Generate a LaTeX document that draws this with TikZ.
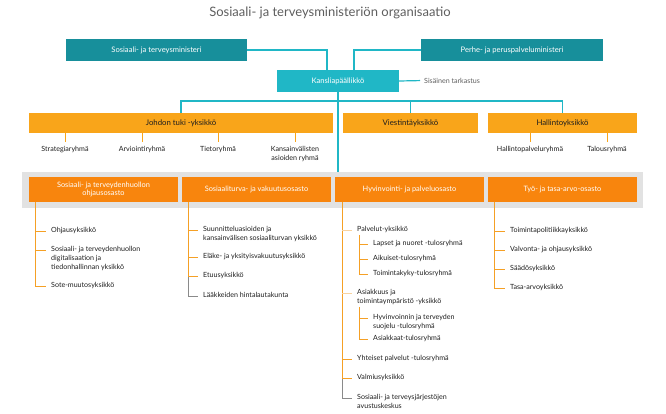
\documentclass[tikz,border=0pt]{standalone}
\usepackage{fontspec}
\setmainfont{Lato}
\definecolor{tealdark}{HTML}{178F9B}
\definecolor{cyanc}{HTML}{20B7C6}
\definecolor{amber}{HTML}{F9A51A}
\definecolor{deptor}{HTML}{F8850D}
\definecolor{trunkor}{HTML}{F5A025}
\definecolor{paleor}{HTML}{F8D3A0}
\definecolor{greyl}{HTML}{8A8A8A}
\definecolor{bandg}{HTML}{E2E2E2}
\definecolor{txt}{HTML}{1E1E1E}
\definecolor{titleg}{HTML}{5E5E5E}
\tikzset{
  fsmall/.style={font=\fontsize{7.1}{9}\selectfont},
  item/.style={fsmall, text=txt, inner sep=0pt, anchor=north west, align=left},
  lbl/.style={fsmall, text=txt, inner sep=0pt, anchor=north, align=center},
  tealbox/.style={fill=tealdark, text=white, inner sep=0pt, minimum height=22pt, font=\fontsize{7.6}{9}\selectfont},
  kbox/.style={fill=cyanc, text=white, inner sep=0pt, minimum height=22pt, font=\fontsize{7.6}{9}\selectfont},
  ambox/.style={fill=amber, text=txt, inner sep=0pt, minimum height=20pt, font=\fontsize{7.8}{9}\selectfont},
  deptbox/.style={fill=deptor, text=white, inner sep=0pt, minimum height=25pt, minimum width=149pt, align=center, font=\fontsize{7.4}{8.8}\selectfont},
  bandbox/.style={fill=bandg, inner sep=0pt, minimum width=621pt, minimum height=36pt},
  cyanline/.style={draw=cyanc, line width=1.2pt},
  amline/.style={draw=amber, line width=1pt},
  orline/.style={draw=trunkor, line width=1pt},
  paleline/.style={draw=paleor, line width=1pt},
  greyline/.style={draw=greyl, line width=1pt},
  tick/.style={shorten >=5pt},
}
\begin{document}
\begin{tikzpicture}[x=1pt,y=-1pt]
\useasboundingbox (0,0) rectangle (666,414);
% title
\node[font=\fontsize{13}{15}\selectfont, text=titleg, inner sep=0pt] (title) at (330,13) {Sosiaali- ja terveysministeriön organisaatio};
% top boxes
\node[tealbox, minimum width=181pt] (min1) at (156.5,50) {Sosiaali- ja terveysministeri};
\node[tealbox, minimum width=182pt] (min2) at (512,50) {Perhe- ja peruspalveluministeri};
\node[kbox, minimum width=122pt] (kans) at (338,81) {Kansliapäällikkö};
\node[fsmall, text=titleg, inner sep=0pt, anchor=west] (sis) at (424,80.5) {Sisäinen tarkastus};
% second row
\node[ambox, minimum width=304pt] (johdon) at (181,123) {Johdon tuki -yksikkö};
\node[ambox, minimum width=135pt] (viest) at (410.5,123) {Viestintäyksikkö};
\node[ambox, minimum width=149pt] (hall) at (562.5,123) {Hallintoyksikkö};
% band + departments
\node[bandbox] (band) at (332.5,190) {};
\node[deptbox] (d1) at (103.5,189.5) {Sosiaali- ja terveydenhuollon\\ohjausosasto};
\node[deptbox] (d2) at (256.5,189.5) {Sosiaaliturva- ja vakuutusosasto};
\node[deptbox] (d3) at (409.5,189.5) {Hyvinvointi- ja palveluosasto};
\node[deptbox] (d4) at (562.5,189.5) {Työ- ja tasa-arvo-osasto};
% cyan connectors
\coordinate (bus) at (338,101);
\draw[cyanline] (min1.east) -| ([xshift=-11pt]kans.north);
\draw[cyanline] (min2.west) -| ([xshift=16pt]kans.north);
\draw[cyanline, shorten >=4pt] (kans.east) -- (sis.west);
\draw[cyanline] (kans.south) -- (band.north -| kans.south);
\draw[cyanline] (johdon.north) |- (hall.north |- bus) -- (hall.north);
\draw[cyanline] (viest.north) -- (viest.north |- bus);
% johdon groups
\node[lbl] (g1) at (65,146.5) {Strategiaryhmä};
\node[lbl] (g2) at (142,146.5) {Arviointiryhmä};
\node[lbl] (g3) at (218,146.5) {Tietoryhmä};
\node[lbl] (g4) at (295,146.5) {Kansainvälisten\\asioiden ryhmä};
\node[lbl] (h1) at (530,146.5) {Hallintopalveluryhmä};
\node[lbl] (h2) at (607,146.5) {Talousryhmä};
\foreach \g in {g1,g2,g3,g4}{\draw[amline, shorten >=4pt] (johdon.south -| \g.north) -- (\g.north);}
\foreach \g in {h1,h2}{\draw[amline, shorten >=4pt] (hall.south -| \g.north) -- (\g.north);}
% column 1
\coordinate (k1a) at (35,231);
\coordinate (k1b) at (35,250);
\coordinate (k1c) at (35,286);
\node[item] (i1a) at ([xshift=16pt,yshift=3.5pt]k1a) {Ohjausyksikkö};
\node[item] (i1b) at ([xshift=16pt,yshift=3.5pt]k1b) {Sosiaali- ja terveydenhuollon\\digitalisaation ja\\tiedonhallinnan yksikkö};
\node[item] (i1c) at ([xshift=16pt,yshift=3.5pt]k1c) {Sote-muutosyksikkö};
\draw[orline] (d1.south -| k1a) -- (k1c);
\foreach \k/\i in {k1a/i1a,k1b/i1b,k1c/i1c}{\draw[orline, tick] (\k) -- (\k -| \i.west);}
% column 2
\coordinate (k2a) at (188,230);
\coordinate (k2b) at (188,257);
\coordinate (k2c) at (188,276);
\coordinate (k2d) at (188,296);
\node[item] (i2a) at ([xshift=15pt,yshift=3.5pt]k2a) {Suunnitteluasioiden ja\\kansainvälisen sosiaaliturvan yksikkö};
\node[item] (i2b) at ([xshift=15pt,yshift=3.5pt]k2b) {Eläke- ja yksityisvakuutusyksikkö};
\node[item] (i2c) at ([xshift=15pt,yshift=3.5pt]k2c) {Etuusyksikkö};
\node[item] (i2d) at ([xshift=15pt,yshift=3.5pt]k2d) {Lääkkeiden hintalautakunta};
\draw[orline] (d2.south -| k2a) -- (k2c);
\draw[greyline] (k2c) -- (k2d);
\foreach \k/\i in {k2a/i2a,k2b/i2b,k2c/i2c}{\draw[orline, tick] (\k) -- (\k -| \i.west);}
\draw[greyline, tick] (k2d) -- (k2d -| i2d.west);
% column 3
\coordinate (k3a) at (342,230);
\coordinate (k3b) at (342,293);
\coordinate (k3c) at (342,359);
\coordinate (k3d) at (342,378);
\coordinate (k3e) at (342,398);
\node[item] (i3a) at ([xshift=15pt,yshift=3.5pt]k3a) {Palvelut-yksikkö};
\node[item] (i3b) at ([xshift=15pt,yshift=3.5pt]k3b) {Asiakkuus ja\\toimintaympäristö -yksikkö};
\node[item] (i3c) at ([xshift=15pt,yshift=3.5pt]k3c) {Yhteiset palvelut -tulosryhmä};
\node[item] (i3d) at ([xshift=15pt,yshift=3.5pt]k3d) {Valmiusyksikkö};
\node[item] (i3e) at ([xshift=15pt,yshift=3.5pt]k3e) {Sosiaali- ja terveysjärjestöjen\\avustuskeskus};
\draw[orline] (d3.south -| k3a) -- (k3d);
\draw[greyline] (k3d) -- (k3e);
\foreach \k/\i in {k3a/i3a,k3b/i3b}{\draw[paleline, tick] (\k) -- (\k -| \i.west);}
\foreach \k/\i in {k3c/i3c,k3d/i3d}{\draw[orline, tick] (\k) -- (\k -| \i.west);}
\draw[greyline, tick] (k3e) -- (k3e -| i3e.west);
% sub-units
\coordinate (s1a) at (359,244);
\coordinate (s1b) at (359,259);
\coordinate (s1c) at (359,274);
\node[item] (j1a) at ([xshift=14pt,yshift=3.5pt]s1a) {Lapset ja nuoret -tulosryhmä};
\node[item] (j1b) at ([xshift=14pt,yshift=3.5pt]s1b) {Aikuiset-tulosryhmä};
\node[item] (j1c) at ([xshift=14pt,yshift=3.5pt]s1c) {Toimintakyky-tulosryhmä};
\draw[orline] ([yshift=-1.5pt]i3a.south -| s1a) -- (s1c);
\foreach \k/\i in {s1a/j1a,s1b/j1b,s1c/j1c}{\draw[orline, tick] (\k) -- (\k -| \i.west);}
\coordinate (s2a) at (359,318);
\coordinate (s2b) at (359,339);
\node[item] (j2a) at ([xshift=14pt,yshift=3.5pt]s2a) {Hyvinvoinnin ja terveyden\\suojelu -tulosryhmä};
\node[item] (j2b) at ([xshift=14pt,yshift=3.5pt]s2b) {Asiakkaat-tulosryhmä};
\draw[orline] ([yshift=-1.5pt]i3b.south -| s2a) -- (s2b);
\foreach \k/\i in {s2a/j2a,s2b/j2b}{\draw[orline, tick] (\k) -- (\k -| \i.west);}
% column 4
\coordinate (k4a) at (494,231);
\coordinate (k4b) at (494,250);
\coordinate (k4c) at (494,269);
\coordinate (k4d) at (494,288);
\node[item] (i4a) at ([xshift=16pt,yshift=3.5pt]k4a) {Toimintapolitiikkayksikkö};
\node[item] (i4b) at ([xshift=16pt,yshift=3.5pt]k4b) {Valvonta- ja ohjausyksikkö};
\node[item] (i4c) at ([xshift=16pt,yshift=3.5pt]k4c) {Säädösyksikkö};
\node[item] (i4d) at ([xshift=16pt,yshift=3.5pt]k4d) {Tasa-arvoyksikkö};
\draw[orline] (d4.south -| k4a) -- (k4d);
\foreach \k/\i in {k4a/i4a,k4b/i4b,k4c/i4c,k4d/i4d}{\draw[orline, tick] (\k) -- (\k -| \i.west);}
\end{tikzpicture}
\end{document}
